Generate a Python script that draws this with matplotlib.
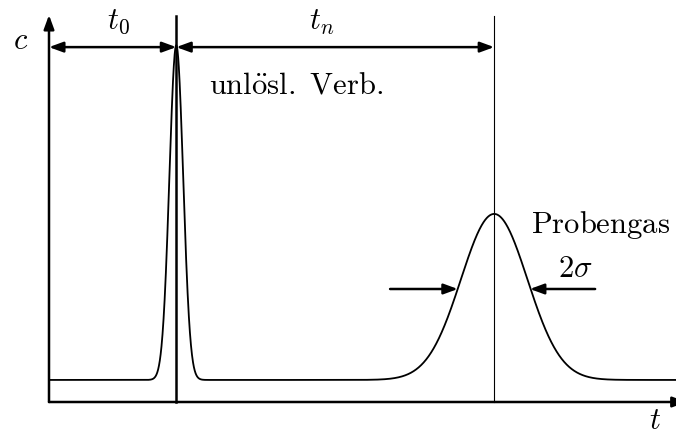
"""Schematic chromatogram: inert peak at t0, sample peak at t0 + tn."""

import matplotlib

matplotlib.use("Agg")
import matplotlib.pyplot as plt
import numpy as np

plt.rcParams["mathtext.fontset"] = "cm"

# Peak parameters (time in arbitrary units, c in axis fraction)
peak_names = ["unlösl. Verb.", "Probengas"]
peak_times = [2.03, 7.10]
peak_heights = [0.865, 0.429]
peak_sigmas = [0.11, 0.53]
baseline = 0.057

t_max = 10.0
c_max = 1.0
t = np.linspace(0, t_max, 3000)
c = np.full_like(t, baseline)
for t_p, h, s in zip(peak_times, peak_heights, peak_sigmas):
    c += h * np.exp(-0.5 * ((t - t_p) / s) ** 2)

fig = plt.figure(figsize=(6.76, 4.37), dpi=100)
ax = fig.add_axes([49 / 676, 35 / 437, 627 / 676, 387 / 437])
ax.set_xlim(0, t_max)
ax.set_ylim(0, c_max)
ax.axis("off")

arrow_kw = dict(arrowstyle="-|>,head_length=0.6,head_width=0.22", color="black",
                lw=1.8, mutation_scale=14, shrinkA=0, shrinkB=0)
dbl_kw = dict(arrow_kw, arrowstyle="<|-|>,head_length=0.6,head_width=0.22")

# axes with arrows (the t-axis head runs off the right edge, as in the original)
ax.annotate("", xy=(0, 1.0), xytext=(0, 0), arrowprops=arrow_kw, annotation_clip=False)
ax.annotate("", xy=(t_max + 0.17, 0), xytext=(0, 0), arrowprops=arrow_kw,
            annotation_clip=False)

# chromatogram trace
ax.plot(t, c, color="black", lw=1.3, clip_on=False)

# vertical markers at the retention times
ax.plot([peak_times[0]] * 2, [0, 0.997], color="black", lw=1.8, clip_on=False)
ax.plot([peak_times[1]] * 2, [0, 0.997], color="black", lw=0.8, clip_on=False)

# t0 and tn spans
y_span = 0.917
ax.annotate("", xy=(peak_times[0], y_span), xytext=(0, y_span), arrowprops=dbl_kw)
ax.annotate("", xy=(peak_times[1], y_span), xytext=(peak_times[0], y_span), arrowprops=dbl_kw)

# 2 sigma arrows on the sample peak
y_sig = 0.292
ax.annotate("", xy=(6.52, y_sig), xytext=(5.44, y_sig), arrowprops=arrow_kw)
ax.annotate("", xy=(7.67, y_sig), xytext=(8.71, y_sig), arrowprops=arrow_kw)

fs = 22
ax.text(-0.46, 0.935, r"$c$", fontsize=fs, ha="center", va="center", clip_on=False)
ax.text(1.10, 0.982, r"$t_0$", fontsize=fs, ha="center", va="center")
ax.text(4.35, 0.982, r"$t_n$", fontsize=fs, ha="center", va="center")
ax.text(2.55, 0.819, r"$\mathrm{unl\ddot{o}sl.\ Verb.}$", fontsize=fs, ha="left", va="center")
ax.text(7.69, 0.457, r"$\mathrm{Probengas}$", fontsize=fs, ha="left", va="center")
ax.text(8.40, 0.346, r"$2\sigma$", fontsize=fs, ha="center", va="center")
ax.text(9.66, -0.048, r"$t$", fontsize=fs, ha="center", va="center", clip_on=False)

fig.savefig("out.png", dpi=100)
plt.close(fig)
